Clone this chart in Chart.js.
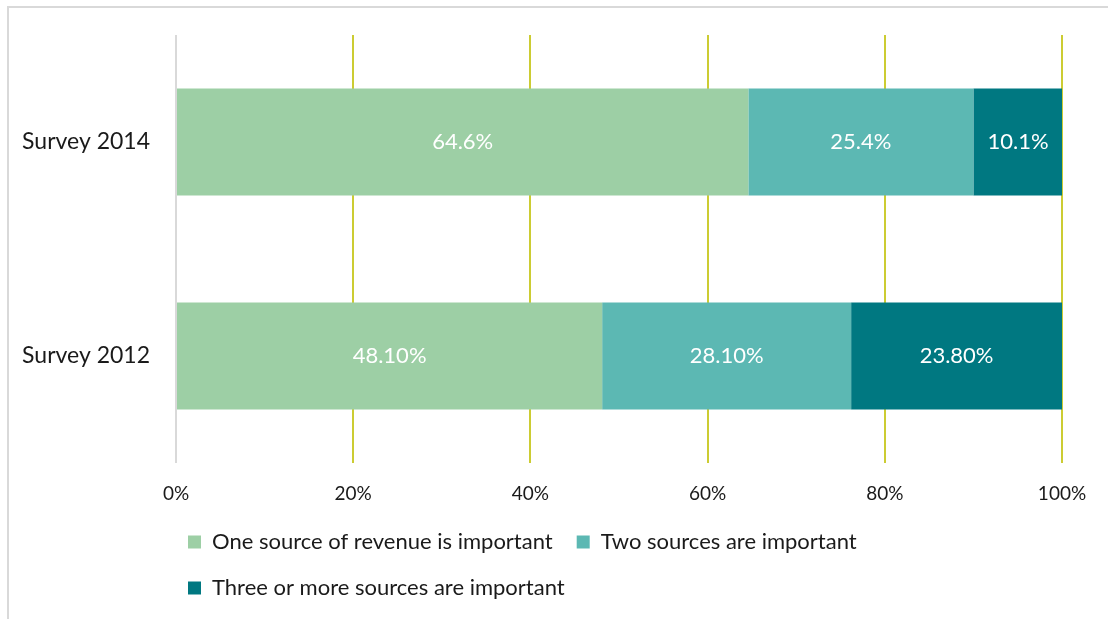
<!DOCTYPE html>
<html>
<head>
<meta charset="utf-8">
<script src="https://cdn.jsdelivr.net/npm/chart.js@4"></script>
<style>
    html, body { margin: 0; padding: 0; background: #ffffff; overflow: hidden; }
    #frame {
        position: absolute; left: 7px; top: 6px; width: 1300px; height: 800px;
        border-left: 2px solid #d9d9d9; border-top: 2px solid #d9d9d9;
    }
    #holder { position: absolute; left: 0; top: 0; width: 1108px; height: 619px; }
</style>
</head>
<body>
<div id="frame"></div>
<div id="holder"><canvas id="chart-area-1" width="1108" height="619"></canvas></div>
<script>

var categories   = ["Survey 2014", "Survey 2012"];
var series_names = ["One source of revenue is important", "Two sources are important", "Three or more sources are important"];
var one_source   = [64.6, 48.1];
var two_sources  = [25.4, 28.1];
var three_more   = [10.1, 23.8];
var one_labels   = ["64.6%", "48.10%"];
var two_labels   = ["25.4%", "28.10%"];
var three_labels = ["10.1%", "23.80%"];
var x_ticks      = [0, 20, 40, 60, 80, 100];

var font_name = "Lato";

// draws the value labels in the middle of each bar piece
var bar_labels = {
    id: 'bar_labels',
    afterDatasetsDraw: function(chart) {
        var ctx = chart.ctx;
        ctx.save();
        ctx.font = '22px ' + font_name;
        ctx.fillStyle = '#ffffff';
        ctx.textAlign = 'center';
        ctx.textBaseline = 'middle';
        chart.data.datasets.forEach(function(dataset, i) {
            var meta = chart.getDatasetMeta(i);
            meta.data.forEach(function(bar, j) {
                var mid = (bar.x + bar.base) / 2;
                ctx.fillText(dataset.labels_text[j], mid, bar.y);
            });
        });
        ctx.restore();
    }
};

// nudge the legend a bit to the left, like the original
var legend_shift = {
    id: 'legend_shift',
    afterLayout: function(chart) {
        if (chart.legend) {
            chart.legend.left -= 12;
            chart.legend.right -= 12;
        }
    }
};

function create_chart() {

    var ctx = document.getElementById("chart-area-1").getContext("2d");

    var config = {
        type: 'bar',
        data: {
            labels: categories,
            datasets: [{
                label: series_names[0],
                data: one_source,
                labels_text: one_labels,
                backgroundColor: '#9dcfa5'
            }, {
                label: series_names[1],
                data: two_sources,
                labels_text: two_labels,
                backgroundColor: '#5cb8b3'
            }, {
                label: series_names[2],
                data: three_more,
                labels_text: three_labels,
                backgroundColor: '#007881'
            }]
        },
        options: {
            indexAxis: 'y',
            responsive: false,
            animation: false,
            barPercentage: 1.0,
            categoryPercentage: 0.5,
            layout: {
                padding: { top: 35, right: 46, left: 0, bottom: 10 }
            },
            scales: {
                x: {
                    stacked: true,
                    min: 0,
                    max: 100,
                    afterBuildTicks: function(scale) {
                        scale.ticks = x_ticks.map(function(v) { return { value: v }; });
                    },
                    afterFit: function(scale) {
                        scale.height = 44;
                    },
                    border: { display: false },
                    grid: {
                        drawTicks: false,
                        lineWidth: 2,
                        color: function(c) {
                            return c.tick && c.tick.value === 0 ? '#d9d9d9' : '#cccc33';
                        }
                    },
                    ticks: {
                        padding: 19,
                        color: '#1a1a1a',
                        font: { family: font_name, size: 19 },
                        callback: function(v) { return v + '%'; }
                    }
                },
                y: {
                    stacked: true,
                    afterFit: function(scale) {
                        scale.width = 176;
                        scale.paddingTop = 0;
                        scale.paddingBottom = 0;
                    },
                    border: { display: false },
                    grid: { display: false, drawTicks: false },
                    ticks: {
                        padding: 26,
                        color: '#1a1a1a',
                        font: { family: font_name, size: 23 }
                    }
                }
            },
            plugins: {
                tooltip: { enabled: false },
                legend: {
                    position: 'bottom',
                    align: 'start',
                    fullSize: false,
                    labels: {
                        boxWidth: 13,
                        boxHeight: 13,
                        padding: 24,
                        color: '#1a1a1a',
                        font: { family: font_name, size: 22 }
                    }
                }
            }
        },
        plugins: [bar_labels, legend_shift]
    };

    window.myBar = new Chart(ctx, config);
}

create_chart();

</script>
</body>
</html>
